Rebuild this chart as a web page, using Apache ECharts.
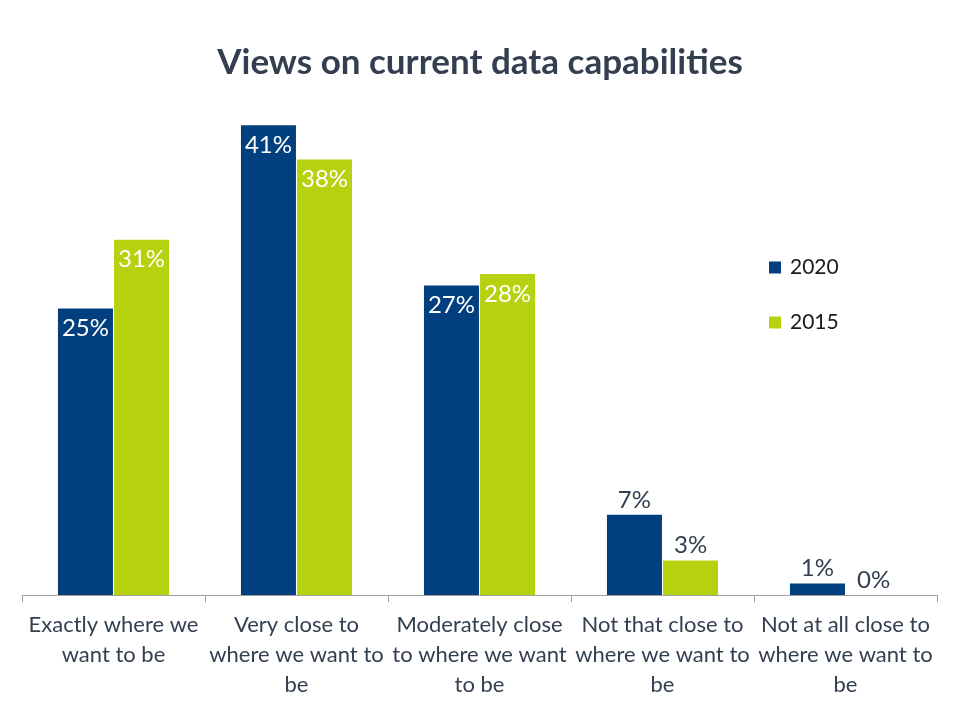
<!DOCTYPE html>
<html>
<head>
<meta charset="utf-8">
<script src="https://cdn.jsdelivr.net/npm/echarts@6/dist/echarts.min.js"></script>
<style>html,body{margin:0;padding:0;background:#fff}#c{width:960px;height:720px}</style>
</head>
<body>
<div id="c"></div>
<script>
const categories = [
  "Exactly where we\nwant to be",
  "Very close to\nwhere we want to\nbe",
  "Moderately close\nto where we want\nto be",
  "Not that close to\nwhere we want to\nbe",
  "Not at all close to\nwhere we want to\nbe"
];
const seriesNames = ["2020", "2015"];
const values2020 = [25, 41, 27, 7, 1];
const values2015 = [31, 38, 28, 3, 0];

const FONT = 'Lato';
const textDark = '#333f50';
const insideThreshold = 10;

function makeData(vals) {
  return vals.map(v => {
    const inside = v >= insideThreshold;
    return {
      value: v,
      label: inside
        ? { position: 'insideTop', color: '#ffffff', distance: 8 }
        : { position: 'top', color: textDark, distance: 3 }
    };
  });
}

const chart = echarts.init(document.getElementById('c'));
chart.setOption({
  animation: false,
  backgroundColor: '#ffffff',
  title: {
    text: 'Views on current data capabilities',
    left: 'center',
    top: 40,
    textStyle: { fontFamily: FONT, fontSize: 35, fontWeight: 'bold', color: textDark }
  },
  legend: {
    orient: 'vertical',
    left: 764,
    top: 252,
    itemWidth: 12,
    itemHeight: 12,
    itemGap: 34,
    icon: 'rect',
    textStyle: { fontFamily: FONT, fontSize: 21, color: '#1a1a1a', padding: [0, 0, 0, 4] },
    data: seriesNames
  },
  grid: { left: 22, right: 23, top: 22, bottom: 125, containLabel: false },
  xAxis: {
    type: 'category',
    data: categories,
    axisLine: { lineStyle: { color: '#a0a0a0', width: 1 } },
    axisTick: { show: true, length: 7, lineStyle: { color: '#a0a0a0' } },
    axisLabel: {
      interval: 0,
      margin: 15,
      fontFamily: FONT,
      fontSize: 22,
      lineHeight: 30,
      color: textDark
    }
  },
  yAxis: {
    type: 'value',
    min: 0,
    max: 50,
    show: false,
    splitLine: { show: false }
  },
  series: [
    {
      name: seriesNames[0],
      type: 'bar',
      data: makeData(values2020),
      barWidth: 55,
      barGap: '2%',
      itemStyle: { color: '#023f7e' },
      label: { show: true, formatter: '{c}%', fontFamily: FONT, fontSize: 24 }
    },
    {
      name: seriesNames[1],
      type: 'bar',
      data: makeData(values2015),
      barWidth: 55,
      barGap: '2%',
      itemStyle: { color: '#b6d20f' },
      label: { show: true, formatter: '{c}%', fontFamily: FONT, fontSize: 24 }
    }
  ]
});
</script>
</body>
</html>
